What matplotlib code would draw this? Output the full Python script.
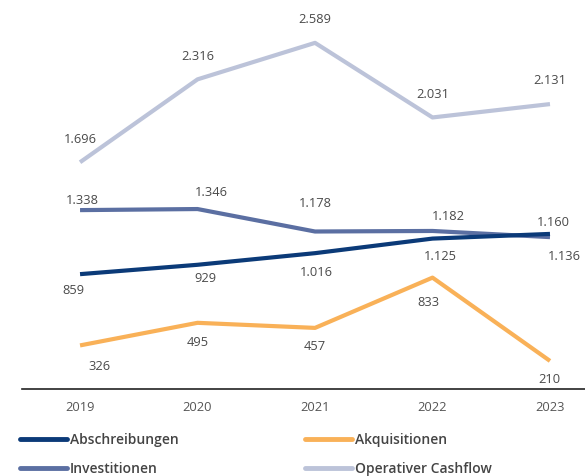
import matplotlib.pyplot as plt
from matplotlib.lines import Line2D

# Data
years = [2019, 2020, 2021, 2022, 2023]
abschreibungen = [859, 929, 1016, 1125, 1160]
akquisitionen = [326, 495, 457, 833, 210]
investitionen = [1338, 1346, 1178, 1182, 1136]
cashflow = [1696, 2316, 2589, 2031, 2131]

plt.rcParams['font.family'] = ['Open Sans', 'DejaVu Sans']

def fmt(v):
    return f"{v:,}".replace(",", ".")

fig = plt.figure(figsize=(5.85, 4.77), dpi=100)
ax = fig.add_axes([22 / 585, 1 - 390 / 477, 1 - 22 / 585, 390 / 477])

c_abs = '#0B3A78'
c_akq = '#F9B158'
c_inv = '#5B6FA2'
c_ocf = '#BCC3D9'

ax.plot(years, cashflow, color=c_ocf, lw=3, solid_capstyle='butt')
ax.plot(years, akquisitionen, color=c_akq, lw=3, solid_capstyle='butt')
ax.plot(years, investitionen, color=c_inv, lw=3, solid_capstyle='butt')
ax.plot(years, abschreibungen, color=c_abs, lw=3, solid_capstyle='butt')

ax.set_xlim(2018.506, 2023.298)
ax.set_ylim(0, 2917)

# label offsets in pixels (dx, dy)
off_ocf = [(0, 24), (0, 24), (0, 24), (0, 24), (0, 25)]
off_inv = [(2, 11), (14, 18), (0, 29), (16, 15), (14, -18)]
off_abs = [(-7, -15), (8, -13), (1, -18), (8, -17), (3, 12)]
off_akq = [(19, -20), (0, -19), (0, -18), (-4, -24), (-1, -18)]

for vals, offs in [(cashflow, off_ocf), (investitionen, off_inv),
                   (abschreibungen, off_abs), (akquisitionen, off_akq)]:
    for x, v, (dx, dy) in zip(years, vals, offs):
        ax.annotate(fmt(v), (x, v), xytext=(dx, dy), textcoords='offset pixels',
                    ha='center', va='center', fontsize=9.3, color='#4a4a4a')

for s in ['top', 'right', 'left']:
    ax.spines[s].set_visible(False)
ax.spines['bottom'].set_color('#222222')
ax.spines['bottom'].set_linewidth(1.2)
ax.set_yticks([])
ax.set_xticks(years)
ax.set_xticklabels([str(y) for y in years], fontsize=9.3, color='#555555')
ax.tick_params(axis='x', length=0, pad=8)

# legend
legend_items = [("Abschreibungen", c_abs, 20, 440), ("Akquisitionen", c_akq, 305, 440),
                ("Investitionen", c_inv, 20, 469), ("Operativer Cashflow", c_ocf, 305, 469)]
for label, col, px, py in legend_items:
    y = 1 - py / 477
    fig.add_artist(Line2D([px / 585, (px + 47) / 585], [y, y], color=col, lw=3.5,
                          solid_capstyle='round', transform=fig.transFigure))
    fig.text((px + 50) / 585, y, label, fontsize=10, fontweight='semibold',
             color='#444444', va='center', ha='left')

fig.savefig('out.png', dpi=100)
